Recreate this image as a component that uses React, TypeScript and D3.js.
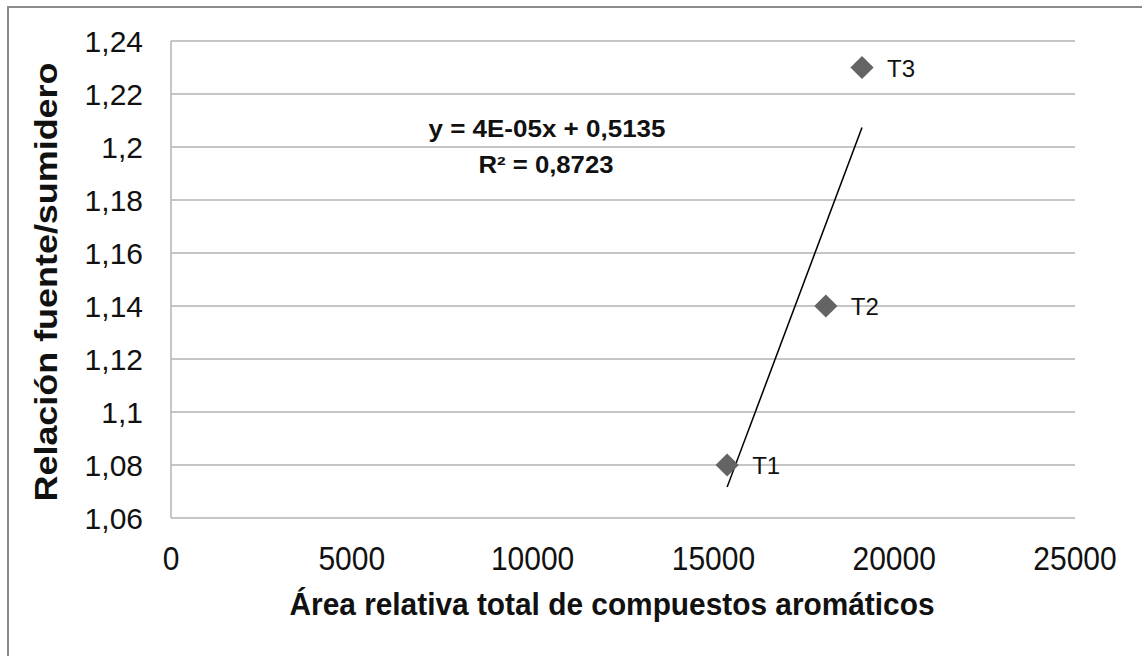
import React from "react";
import * as d3 from "d3";

// Treatments and their measurements
const treatments = ["T1", "T2", "T3"];
const aromaticArea = [15380, 18110, 19110];
const sourceSinkRatio = [1.08, 1.14, 1.23];

// Axis ticks
const xTicks = [0, 5000, 10000, 15000, 20000, 25000];
const yTicks = [1.06, 1.08, 1.1, 1.12, 1.14, 1.16, 1.18, 1.2, 1.22, 1.24];

const equationText = "y = 4E-05x + 0,5135";
const r2Text = "R² = 0,8723";

const W = 1142;
const H = 656;
const FONT = "'Liberation Sans', Arial, sans-serif";

const plot = { left: 171, right: 1075, top: 41, bottom: 518 };

function fmtComma(v: number): string {
  return String(+v.toFixed(2)).replace(".", ",");
}

export default function App() {
  const x = d3.scaleLinear().domain([0, 25000]).range([plot.left, plot.right]);
  const y = d3.scaleLinear().domain([1.06, 1.24]).range([plot.bottom, plot.top]);

  // Least-squares linear trend over the three treatments
  const mx = d3.mean(aromaticArea)!;
  const my = d3.mean(sourceSinkRatio)!;
  const sxy = d3.sum(aromaticArea, (v, i) => (v - mx) * (sourceSinkRatio[i] - my));
  const sxx = d3.sum(aromaticArea, (v) => (v - mx) * (v - mx));
  const slope = sxy / sxx;
  const intercept = my - slope * mx;
  const [x0, x1] = d3.extent(aromaticArea) as [number, number];
  const trend = d3.line<number>()
    .x((v) => x(v))
    .y((v) => y(intercept + slope * v))([x0, x1]);

  const diamond = d3.symbol().type(d3.symbolSquare).size(270)();

  return (
    <svg
      width={W}
      height={H}
      style={{ position: "absolute", left: 0, top: 0, background: "#fff" }}
      fontFamily={FONT}
    >
      {/* chart frame */}
      <rect x={8} y={7} width={W + 20} height={H + 20} fill="#fff" stroke="#8c8c8c" strokeWidth={2} />

      {/* horizontal gridlines */}
      {yTicks.map((t) => (
        <line
          key={"g" + t}
          x1={plot.left}
          x2={plot.right}
          y1={y(t)}
          y2={y(t)}
          stroke="#b3b3b3"
          strokeWidth={1.5}
        />
      ))}
      {/* vertical axis line */}
      <line x1={plot.left} x2={plot.left} y1={plot.top} y2={plot.bottom} stroke="#b3b3b3" strokeWidth={1.5} />

      {/* y tick labels */}
      {yTicks.map((t) => (
        <text
          key={"yt" + t}
          x={143}
          y={y(t) + 11}
          textAnchor="end"
          fontSize={30}
          fill="#111"
        >
          {fmtComma(t)}
        </text>
      ))}

      {/* x tick labels */}
      {xTicks.map((t) => (
        <text
          key={"xt" + t}
          x={x(t)}
          y={570}
          textAnchor="middle"
          fontSize={30}
          fill="#111"
          transform={`translate(0,570) scale(1,1.08) translate(0,-570)`}
        >
          {t}
        </text>
      ))}

      {/* trend line */}
      <path d={trend ?? ""} fill="none" stroke="#000" strokeWidth={1.5} />

      {/* data points */}
      {aromaticArea.map((v, i) => (
        <g key={"p" + i}>
          <path
            d={diamond ?? ""}
            transform={`translate(${x(v)},${y(sourceSinkRatio[i])}) rotate(45)`}
            fill="#646464"
          />
          <text
            x={x(v) + 25}
            y={y(sourceSinkRatio[i]) + 9}
            fontSize={24}
            fill="#111"
          >
            {treatments[i]}
          </text>
        </g>
      ))}

      {/* regression equation */}
      <text x={547} y={137} textAnchor="middle" fontSize={23} fontWeight="bold" fill="#111"
        textLength={237} lengthAdjust="spacingAndGlyphs">
        {equationText}
      </text>
      <text x={546} y={173} textAnchor="middle" fontSize={23} fontWeight="bold" fill="#111"
        textLength={135} lengthAdjust="spacingAndGlyphs">
        {r2Text}
      </text>

      {/* axis titles */}
      <text x={612} y={615} textAnchor="middle" fontSize={31} fontWeight="bold" fill="#111"
        textLength={645} lengthAdjust="spacingAndGlyphs">
        Área relativa total de compuestos aromáticos
      </text>
      <text
        transform={`translate(57,282) rotate(-90)`}
        textAnchor="middle"
        fontSize={31}
        fontWeight="bold"
        fill="#111"
        textLength={439}
        lengthAdjust="spacingAndGlyphs"
      >
        Relación fuente/sumidero
      </text>
    </svg>
  );
}
